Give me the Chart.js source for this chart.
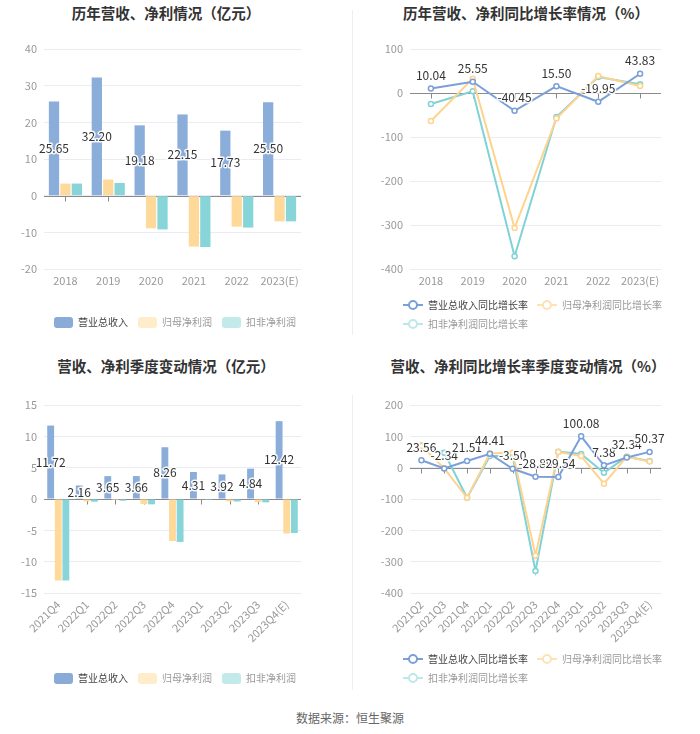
<!DOCTYPE html>
<html>
<head>
<meta charset="utf-8">
<script src="https://cdn.jsdelivr.net/npm/chart.js@4.4.0/dist/chart.umd.min.js"></script>
<style>
  body { margin: 0; background: #fff; }
  #wrap { position: relative; width: 700px; height: 734px; overflow: hidden; font-family: "Noto Sans CJK SC", "Noto Sans", sans-serif; }
  .cell { position: absolute; width: 350px; height: 345px; }
  .title { position: absolute; font-size: 14.5px; font-weight: bold; color: #333; white-space: nowrap; transform: translate(-50%, -50%); }
  .vline { position: absolute; left: 352px; width: 1px; background: #eeeeee; }
  #src { position: absolute; left: 350px; top: 717px; transform: translate(-50%, -50%); font-size: 12px; color: #666; white-space: nowrap; }
</style>
</head>
<body>
<div id="wrap">
  <div class="title" style="left:166px;top:12px">历年营收、净利情况（亿元）</div>
  <div class="title" style="left:526px;top:12px">历年营收、净利同比增长率情况（%）</div>
  <div class="title" style="left:166px;top:365px">营收、净利季度变动情况（亿元）</div>
  <div class="title" style="left:528px;top:365px">营收、净利同比增长率季度变动情况（%）</div>
  <div class="vline" style="top:10px;height:325px"></div>
  <div class="vline" style="top:395px;height:295px"></div>
  <div class="cell" style="left:0;top:0"><canvas id="myChart1"></canvas></div>
  <div class="cell" style="left:350px;top:0"><canvas id="myChart2"></canvas></div>
  <div class="cell" style="left:0;top:352px"><canvas id="myChart3"></canvas></div>
  <div class="cell" style="left:350px;top:352px"><canvas id="myChart4"></canvas></div>
  <div id="src">数据来源：恒生聚源</div>
</div>
<script>
// annual
const years = ['2018', '2019', '2020', '2021', '2022', '2023(E)'];
const yearRevenue = [25.65, 32.20, 19.18, 22.15, 17.73, 25.50];
const yearNetProfit = [3.3, 4.4, -8.9, -13.9, -8.45, -7.0];
const yearDeducted = [3.3, 3.45, -9.2, -14.0, -8.7, -7.0];
const yearRevenueGrowth = [10.04, 25.55, -40.45, 15.50, -19.95, 43.83];
const yearNetGrowth = [-63.6, 32.6, -306.8, -58.0, 38.6, 16.0];
const yearDeductedGrowth = [-25.0, 3.8, -371.0, -54.5, 36.4, 19.7];

// quarterly
const quarters = ['2021Q4', '2022Q1', '2022Q2', '2022Q3', '2022Q4', '2023Q1', '2023Q2', '2023Q3', '2023Q4(E)'];
const qRevenue = [11.72, 2.16, 3.65, 3.66, 8.26, 4.31, 3.92, 4.84, 12.42];
const qNetProfit = [-13.0, -0.38, -0.16, -0.8, -6.7, -0.1, -0.38, -0.5, -5.5];
const qDeducted = [-13.0, -0.43, -0.27, -0.85, -6.85, -0.16, -0.4, -0.54, -5.43];

const growthQuarters = ['2021Q2', '2021Q3', '2021Q4', '2022Q1', '2022Q2', '2022Q3', '2022Q4', '2023Q1', '2023Q2', '2023Q3', '2023Q4(E)'];
const qRevenueGrowth = [23.56, -2.34, 21.51, 44.41, -3.50, -28.89, -29.54, 100.08, 7.38, 32.34, 50.37];
const qNetGrowth = [69, -2, -96, 45, 48, -280, 50, 37, -51, 35, 20];
const qDeductedGrowth = [71, 48, -96, 37, 37, -330, 51, 44, -16, 35, 21];

const barNames = ['营业总收入', '归母净利润', '扣非净利润'];
const lineNames = ['营业总收入同比增长率', '归母净利润同比增长率', '扣非净利润同比增长率'];

const barColors = ['#8badda', '#ffd99a', '#88d5d9'];
const barLegendColors = ['#8aaad8', '#ffecca', '#c2eaeb'];
const lineColors = ['#7b9fda', '#ffd38e', '#7fd3d6'];
const lineLegendColors = ['#7b9fda', '#ffe2b4', '#bce8ea'];
const legendTextColors = ['#444', '#999', '#999'];

Chart.defaults.font.family = '"Noto Sans CJK SC", "Noto Sans", sans-serif';
Chart.defaults.animation = false;

// small "line with hollow circle" icon for the line legends
function lineIcon(color) {
    let c = document.createElement('canvas');
    c.width = 20;
    c.height = 12;
    let g = c.getContext('2d');
    g.strokeStyle = color;
    g.lineWidth = 2;
    g.beginPath();
    g.moveTo(0, 6);
    g.lineTo(20, 6);
    g.stroke();
    g.fillStyle = '#fff';
    g.beginPath();
    g.arc(10, 6, 4, 0, Math.PI * 2);
    g.fill();
    g.stroke();
    return c;
}

// zero line with small category ticks + value labels of the first series
const zeroAndLabels = {
    id: 'zeroAndLabels',
    beforeDatasetsDraw(chart) {
        let ctx = chart.ctx;
        let x = chart.scales.x;
        let y0 = Math.round(chart.scales.y.getPixelForValue(0)) + 0.5;
        ctx.save();
        ctx.strokeStyle = '#8a8a8a';
        ctx.lineWidth = 1;
        ctx.beginPath();
        ctx.moveTo(chart.chartArea.left, y0);
        ctx.lineTo(chart.chartArea.right, y0);
        for (let i = 0; i < chart.data.labels.length; i++) {
            let px = Math.round(x.getPixelForValue(i)) + 0.5;
            ctx.moveTo(px, y0);
            ctx.lineTo(px, y0 + 5);
        }
        ctx.stroke();
        ctx.restore();
    },
    afterDatasetsDraw(chart) {
        let ctx = chart.ctx;
        let meta = chart.getDatasetMeta(0);
        let vals = chart.data.datasets[0].data;
        let isBar = meta.type === 'bar';
        ctx.save();
        ctx.font = '12px "Noto Sans CJK SC", "Noto Sans", sans-serif';
        ctx.textAlign = 'center';
        ctx.textBaseline = 'middle';
        ctx.lineJoin = 'round';
        meta.data.forEach((el, i) => {
            let txt = vals[i].toFixed(2);
            let ty = isBar ? (el.y + el.base) / 2 : el.y - 13;
            ctx.strokeStyle = 'rgba(255,255,255,0.9)';
            ctx.lineWidth = 3;
            ctx.strokeText(txt, el.x, ty);
            ctx.fillStyle = '#333';
            ctx.fillText(txt, el.x, ty);
        });
        ctx.restore();
    }
};

// move the legend sideways without touching the plot area
const legendShift = {
    id: 'legendShift',
    afterLayout(chart, args, opts) {
        if (opts.dx) {
            chart.legend.left += opts.dx;
            chart.legend.right += opts.dx;
        }
    }
};

function barLegend(chart) {
    return chart.data.datasets.map((ds, i) => ({
        text: ds.label,
        fillStyle: barLegendColors[i],
        strokeStyle: barLegendColors[i],
        lineWidth: 0,
        fontColor: legendTextColors[i],
        borderRadius: 3,
        datasetIndex: i
    }));
}

function lineLegend(chart) {
    return chart.data.datasets.map((ds, i) => ({
        text: ds.label,
        pointStyle: lineIcon(lineLegendColors[i]),
        fillStyle: '#fff',
        strokeStyle: lineLegendColors[i],
        lineWidth: 0,
        fontColor: legendTextColors[i],
        datasetIndex: i
    }));
}

function yAxis(min, max, step, width) {
    return {
        min: min,
        max: max,
        ticks: { stepSize: step, color: '#999', font: { size: 11 }, padding: 7 },
        grid: { color: '#e9ecf3', drawTicks: false },
        border: { display: false },
        afterFit(scale) { scale.width = width; }
    };
}

function spacer(width) {
    return {
        position: 'right',
        display: true,
        ticks: { display: false },
        grid: { display: false, drawTicks: false },
        border: { display: false },
        afterFit(scale) { scale.width = width; }
    };
}

function xAxis(height, rotate) {
    return {
        ticks: { color: '#999', font: { size: 11 }, padding: 5, maxRotation: rotate ? 45 : 0, minRotation: rotate ? 45 : 0, autoSkip: false },
        grid: { display: false, drawTicks: false },
        border: { display: false },
        afterFit(scale) { scale.height = height; }
    };
}

function barSets(a, b, c) {
    return [a, b, c].map((d, i) => ({
        label: barNames[i],
        data: d,
        backgroundColor: barColors[i],
        categoryPercentage: 0.8,
        barPercentage: 0.9
    }));
}

function lineSets(a, b, c) {
    return [a, b, c].map((d, i) => ({
        label: lineNames[i],
        data: d,
        borderColor: lineColors[i],
        backgroundColor: '#fff',
        borderWidth: 2,
        pointRadius: 2.5,
        pointBorderWidth: 1.5,
        pointBackgroundColor: '#fff',
        pointBorderColor: lineColors[i],
        tension: 0
    }));
}

const barLegendLabels = { boxWidth: 19, boxHeight: 11, useBorderRadius: true, borderRadius: 3, padding: 10, font: { size: 10 }, generateLabels: barLegend };
const lineLegendLabels = { usePointStyle: true, pointStyleWidth: 20, boxHeight: 11, padding: 9, font: { size: 10 }, generateLabels: lineLegend };

let myChart1 = document.getElementById('myChart1').getContext('2d');
let annualBars = new Chart(myChart1, {
    type: 'bar',
    data: { labels: years, datasets: barSets(yearRevenue, yearNetProfit, yearDeducted) },
    options: {
        responsive: true,
        maintainAspectRatio: false,
        layout: { padding: { top: 49, left: 0, right: 0, bottom: 7 } },
        scales: { x: xAxis(38, false), y: yAxis(-20, 40, 10, 44), yR: spacer(49) },
        plugins: {
            tooltip: { enabled: false },
            legend: { position: 'bottom', labels: barLegendLabels }
        }
    },
    plugins: [zeroAndLabels]
});

let myChart2 = document.getElementById('myChart2').getContext('2d');
let annualGrowth = new Chart(myChart2, {
    type: 'line',
    data: { labels: years, datasets: lineSets(yearRevenueGrowth, yearNetGrowth, yearDeductedGrowth) },
    options: {
        responsive: true,
        maintainAspectRatio: false,
        layout: { padding: { top: 49, left: 0, right: 0, bottom: 6 } },
        scales: { x: Object.assign(xAxis(22, false), { offset: true }), y: yAxis(-400, 100, 100, 60), yR: spacer(39) },
        plugins: {
            tooltip: { enabled: false },
            legend: { position: 'bottom', align: 'start', labels: lineLegendLabels },
            legendShift: { dx: 44 }
        }
    },
    plugins: [zeroAndLabels, legendShift]
});

let myChart3 = document.getElementById('myChart3').getContext('2d');
let quarterBars = new Chart(myChart3, {
    type: 'bar',
    data: { labels: quarters, datasets: barSets(qRevenue, qNetProfit, qDeducted) },
    options: {
        responsive: true,
        maintainAspectRatio: false,
        layout: { padding: { top: 53, left: 0, right: 0, bottom: 3 } },
        scales: { x: xAxis(70, true), y: yAxis(-15, 15, 5, 44), yR: spacer(49) },
        plugins: {
            tooltip: { enabled: false },
            legend: { position: 'bottom', labels: barLegendLabels }
        }
    },
    plugins: [zeroAndLabels]
});

let myChart4 = document.getElementById('myChart4').getContext('2d');
let quarterGrowth = new Chart(myChart4, {
    type: 'line',
    data: { labels: growthQuarters, datasets: lineSets(qRevenueGrowth, qNetGrowth, qDeductedGrowth) },
    options: {
        responsive: true,
        maintainAspectRatio: false,
        layout: { padding: { top: 53, left: 0, right: 0, bottom: 4 } },
        scales: { x: Object.assign(xAxis(52, true), { offset: true }), y: yAxis(-400, 200, 100, 60), yR: spacer(39) },
        plugins: {
            tooltip: { enabled: false },
            legend: { position: 'bottom', align: 'start', labels: lineLegendLabels },
            legendShift: { dx: 44 }
        }
    },
    plugins: [zeroAndLabels, legendShift]
});
</script>
</body>
</html>
